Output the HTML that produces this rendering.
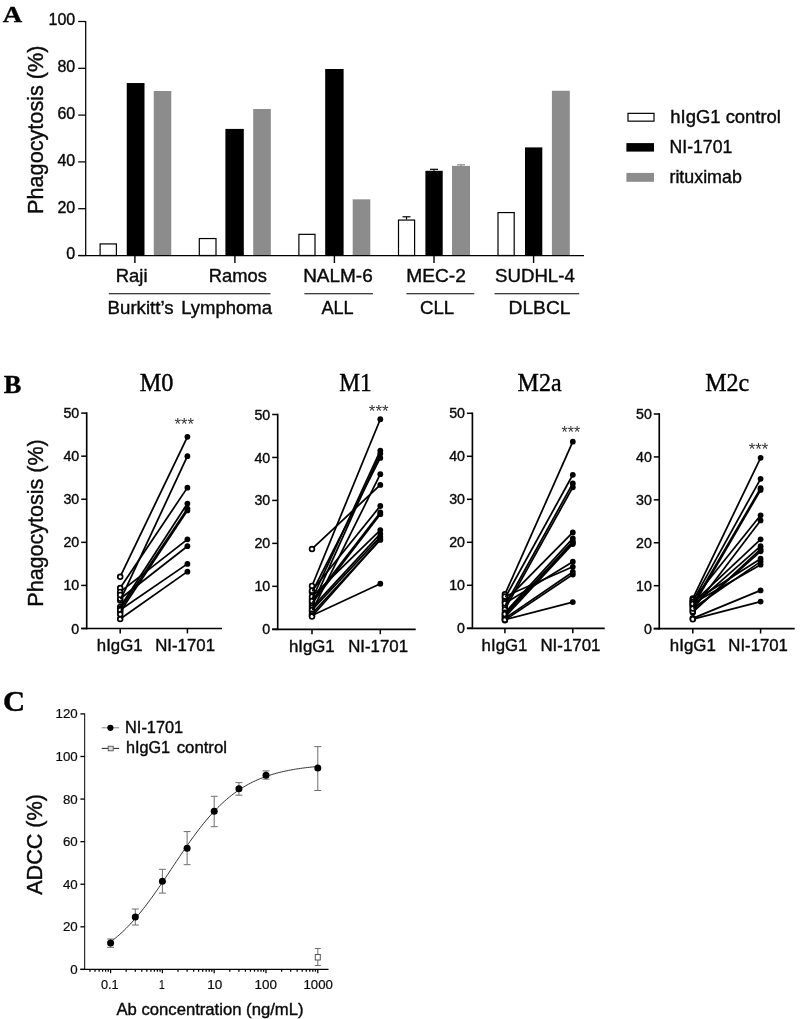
<!DOCTYPE html>
<html lang="en"><head><meta charset="utf-8"><title>Figure</title>
<style>
html,body{margin:0;padding:0;background:#fff;}
svg{display:block;will-change:transform;}
text{white-space:pre;}
</style></head>
<body>
<svg width="800" height="1019" viewBox="0 0 800 1019">
<rect x="0" y="0" width="800" height="1019" fill="#fff"/>
<text transform="translate(2.73 22.00) scale(1.1718 0.9881)" font-size="23" font-family='"Liberation Serif", serif' font-weight="bold" fill="#000" stroke="#000" stroke-width="0.38">A</text>
<line x1="85.70" y1="20.88" x2="85.70" y2="256.12" stroke="#000" stroke-width="1.25" stroke-linecap="butt"/>
<line x1="78.20" y1="255.50" x2="85.70" y2="255.50" stroke="#000" stroke-width="1.25" stroke-linecap="butt"/>
<text transform="translate(66.32 259.30) scale(1.0000 1.0000)" font-size="16" font-family='"Liberation Sans", sans-serif' font-weight="normal" fill="#0a0a0a" stroke="#0a0a0a" stroke-width="0.38">0</text>
<line x1="78.20" y1="208.70" x2="85.70" y2="208.70" stroke="#000" stroke-width="1.25" stroke-linecap="butt"/>
<text transform="translate(57.44 212.50) scale(1.0000 1.0000)" font-size="16" font-family='"Liberation Sans", sans-serif' font-weight="normal" fill="#0a0a0a" stroke="#0a0a0a" stroke-width="0.38">20</text>
<line x1="78.20" y1="161.90" x2="85.70" y2="161.90" stroke="#000" stroke-width="1.25" stroke-linecap="butt"/>
<text transform="translate(57.44 165.70) scale(1.0000 1.0000)" font-size="16" font-family='"Liberation Sans", sans-serif' font-weight="normal" fill="#0a0a0a" stroke="#0a0a0a" stroke-width="0.38">40</text>
<line x1="78.20" y1="115.10" x2="85.70" y2="115.10" stroke="#000" stroke-width="1.25" stroke-linecap="butt"/>
<text transform="translate(57.44 118.90) scale(1.0000 1.0000)" font-size="16" font-family='"Liberation Sans", sans-serif' font-weight="normal" fill="#0a0a0a" stroke="#0a0a0a" stroke-width="0.38">60</text>
<line x1="78.20" y1="68.30" x2="85.70" y2="68.30" stroke="#000" stroke-width="1.25" stroke-linecap="butt"/>
<text transform="translate(57.44 72.10) scale(1.0000 1.0000)" font-size="16" font-family='"Liberation Sans", sans-serif' font-weight="normal" fill="#0a0a0a" stroke="#0a0a0a" stroke-width="0.38">80</text>
<line x1="78.20" y1="21.50" x2="85.70" y2="21.50" stroke="#000" stroke-width="1.25" stroke-linecap="butt"/>
<text transform="translate(48.52 25.30) scale(1.0000 1.0000)" font-size="16" font-family='"Liberation Sans", sans-serif' font-weight="normal" fill="#0a0a0a" stroke="#0a0a0a" stroke-width="0.38">100</text>
<text transform="translate(42.50 213.89) rotate(-90) scale(1.0120 1)" font-size="21.4" font-family='"Liberation Sans", sans-serif' fill="#0a0a0a" stroke="#0a0a0a" stroke-width="0.38">Phagocytosis (%)</text>
<line x1="406.50" y1="219.46" x2="406.50" y2="216.80" stroke="#000" stroke-width="1.2" stroke-linecap="butt"/>
<line x1="402.50" y1="216.80" x2="410.50" y2="216.80" stroke="#000" stroke-width="1.2" stroke-linecap="butt"/>
<line x1="434.00" y1="170.79" x2="434.00" y2="169.30" stroke="#000" stroke-width="1.2" stroke-linecap="butt"/>
<line x1="430.00" y1="169.30" x2="438.00" y2="169.30" stroke="#000" stroke-width="1.2" stroke-linecap="butt"/>
<line x1="461.00" y1="165.88" x2="461.00" y2="164.80" stroke="#8c8c8c" stroke-width="1.2" stroke-linecap="butt"/>
<line x1="457.00" y1="164.80" x2="465.00" y2="164.80" stroke="#8c8c8c" stroke-width="1.2" stroke-linecap="butt"/>
<rect x="100.10" y="243.93" width="16.30" height="11.57" fill="#fff" stroke="#000" stroke-width="1.2"/>
<rect x="126.75" y="83.04" width="17.75" height="172.46" fill="#000" stroke="none" stroke-width="1"/>
<rect x="153.75" y="91.00" width="17.50" height="164.50" fill="#8c8c8c" stroke="none" stroke-width="1"/>
<line x1="134.90" y1="255.50" x2="134.90" y2="263.00" stroke="#000" stroke-width="1.4" stroke-linecap="butt"/>
<rect x="199.30" y="238.55" width="16.70" height="16.95" fill="#fff" stroke="#000" stroke-width="1.2"/>
<rect x="225.40" y="128.91" width="18.40" height="126.59" fill="#000" stroke="none" stroke-width="1"/>
<rect x="253.20" y="109.02" width="17.60" height="146.48" fill="#8c8c8c" stroke="none" stroke-width="1"/>
<line x1="234.90" y1="255.50" x2="234.90" y2="263.00" stroke="#000" stroke-width="1.4" stroke-linecap="butt"/>
<rect x="298.90" y="234.34" width="16.10" height="21.16" fill="#fff" stroke="#000" stroke-width="1.2"/>
<rect x="325.20" y="69.00" width="18.40" height="186.50" fill="#000" stroke="none" stroke-width="1"/>
<rect x="352.70" y="199.34" width="17.60" height="56.16" fill="#8c8c8c" stroke="none" stroke-width="1"/>
<line x1="334.40" y1="255.50" x2="334.40" y2="263.00" stroke="#000" stroke-width="1.4" stroke-linecap="butt"/>
<rect x="398.50" y="220.06" width="16.10" height="35.44" fill="#fff" stroke="#000" stroke-width="1.2"/>
<rect x="425.40" y="170.79" width="17.30" height="84.71" fill="#000" stroke="none" stroke-width="1"/>
<rect x="452.00" y="165.88" width="18.00" height="89.62" fill="#8c8c8c" stroke="none" stroke-width="1"/>
<line x1="434.00" y1="255.50" x2="434.00" y2="263.00" stroke="#000" stroke-width="1.4" stroke-linecap="butt"/>
<rect x="498.00" y="212.58" width="16.20" height="42.92" fill="#fff" stroke="#000" stroke-width="1.2"/>
<rect x="525.00" y="147.39" width="17.30" height="108.11" fill="#000" stroke="none" stroke-width="1"/>
<rect x="551.90" y="90.76" width="17.90" height="164.74" fill="#8c8c8c" stroke="none" stroke-width="1"/>
<line x1="533.60" y1="255.50" x2="533.60" y2="263.00" stroke="#000" stroke-width="1.4" stroke-linecap="butt"/>
<line x1="78.20" y1="255.50" x2="584.00" y2="255.50" stroke="#000" stroke-width="1.25" stroke-linecap="butt"/>
<text transform="translate(115.78 282.10) scale(1.0246 1.0000)" font-size="18.0" font-family='"Liberation Sans", sans-serif' font-weight="normal" fill="#0a0a0a" stroke="#0a0a0a" stroke-width="0.38">Raji</text>
<text transform="translate(208.79 282.10) scale(1.0191 1.0000)" font-size="18.0" font-family='"Liberation Sans", sans-serif' font-weight="normal" fill="#0a0a0a" stroke="#0a0a0a" stroke-width="0.38">Ramos</text>
<text transform="translate(303.14 282.10) scale(1.0539 1.0000)" font-size="18.0" font-family='"Liberation Sans", sans-serif' font-weight="normal" fill="#0a0a0a" stroke="#0a0a0a" stroke-width="0.38">NALM-6</text>
<text transform="translate(406.22 282.10) scale(1.0654 1.0000)" font-size="18.0" font-family='"Liberation Sans", sans-serif' font-weight="normal" fill="#0a0a0a" stroke="#0a0a0a" stroke-width="0.38">MEC-2</text>
<text transform="translate(495.06 282.10) scale(1.0358 1.0000)" font-size="18.0" font-family='"Liberation Sans", sans-serif' font-weight="normal" fill="#0a0a0a" stroke="#0a0a0a" stroke-width="0.38">SUDHL-4</text>
<line x1="108.75" y1="293.70" x2="270.50" y2="293.70" stroke="#000" stroke-width="1.1" stroke-linecap="butt"/>
<line x1="304.40" y1="293.70" x2="373.00" y2="293.70" stroke="#000" stroke-width="1.1" stroke-linecap="butt"/>
<line x1="406.40" y1="293.70" x2="474.20" y2="293.70" stroke="#000" stroke-width="1.1" stroke-linecap="butt"/>
<line x1="494.50" y1="293.70" x2="579.20" y2="293.70" stroke="#000" stroke-width="1.1" stroke-linecap="butt"/>
<text transform="translate(107.56 313.85) scale(1.0380 1.0000)" font-size="18.0" font-family='"Liberation Sans", sans-serif' font-weight="normal" fill="#0a0a0a" stroke="#0a0a0a" stroke-width="0.38">Burkitt’s</text>
<text transform="translate(181.28 313.85) scale(1.0265 1.0000)" font-size="18.0" font-family='"Liberation Sans", sans-serif' font-weight="normal" fill="#0a0a0a" stroke="#0a0a0a" stroke-width="0.38">Lymphoma</text>
<text transform="translate(321.45 313.85) scale(1.0075 1.0000)" font-size="18.0" font-family='"Liberation Sans", sans-serif' font-weight="normal" fill="#0a0a0a" stroke="#0a0a0a" stroke-width="0.38">ALL</text>
<text transform="translate(419.97 313.85) scale(1.0381 1.0000)" font-size="18.0" font-family='"Liberation Sans", sans-serif' font-weight="normal" fill="#0a0a0a" stroke="#0a0a0a" stroke-width="0.38">CLL</text>
<text transform="translate(508.52 313.85) scale(1.0673 1.0000)" font-size="18.0" font-family='"Liberation Sans", sans-serif' font-weight="normal" fill="#0a0a0a" stroke="#0a0a0a" stroke-width="0.38">DLBCL</text>
<rect x="628.00" y="113.35" width="26.00" height="7.80" fill="#fff" stroke="#000" stroke-width="1.2"/>
<rect x="626.40" y="143.10" width="27.60" height="8.50" fill="#000" stroke="none" stroke-width="1"/>
<rect x="626.40" y="172.90" width="27.60" height="8.90" fill="#8c8c8c" stroke="none" stroke-width="1"/>
<text transform="translate(670.31 122.60) scale(1.0478 1.0000)" font-size="17.6" font-family='"Liberation Sans", sans-serif' font-weight="normal" fill="#0a0a0a" stroke="#0a0a0a" stroke-width="0.38">hIgG1 control</text>
<text transform="translate(669.54 153.30) scale(1.0029 1.0000)" font-size="17.6" font-family='"Liberation Sans", sans-serif' font-weight="normal" fill="#0a0a0a" stroke="#0a0a0a" stroke-width="0.38">NI-1701</text>
<text transform="translate(669.44 183.00) scale(1.0141 1.0000)" font-size="17.6" font-family='"Liberation Sans", sans-serif' font-weight="normal" fill="#0a0a0a" stroke="#0a0a0a" stroke-width="0.38">rituximab</text>
<text transform="translate(3.64 393.14) scale(1.1044 1.0203)" font-size="24" font-family='"Liberation Serif", serif' font-weight="bold" fill="#000" stroke="#000" stroke-width="0.38">B</text>
<text transform="translate(43.40 606.68) rotate(-90) scale(1.0065 1)" font-size="21.4" font-family='"Liberation Sans", sans-serif' fill="#0a0a0a" stroke="#0a0a0a" stroke-width="0.38">Phagocytosis (%)</text>
<text transform="translate(139.63 391.25) scale(1.0042 1.0000)" font-size="24.2" font-family='"Liberation Serif", serif' font-weight="normal" fill="#000" stroke="#000" stroke-width="0.38">M0</text>
<line x1="86.70" y1="412.28" x2="86.70" y2="629.33" stroke="#000" stroke-width="1.65" stroke-linecap="butt"/>
<line x1="81.20" y1="628.50" x2="222.00" y2="628.50" stroke="#000" stroke-width="1.65" stroke-linecap="butt"/>
<line x1="81.20" y1="628.50" x2="86.70" y2="628.50" stroke="#000" stroke-width="1.5" stroke-linecap="butt"/>
<text transform="translate(71.35 633.55) scale(1.0000 1.0000)" font-size="14.2" font-family='"Liberation Sans", sans-serif' font-weight="normal" fill="#0a0a0a" stroke="#0a0a0a" stroke-width="0.38">0</text>
<line x1="81.20" y1="585.42" x2="86.70" y2="585.42" stroke="#000" stroke-width="1.5" stroke-linecap="butt"/>
<text transform="translate(63.47 590.47) scale(1.0000 1.0000)" font-size="14.2" font-family='"Liberation Sans", sans-serif' font-weight="normal" fill="#0a0a0a" stroke="#0a0a0a" stroke-width="0.38">10</text>
<line x1="81.20" y1="542.34" x2="86.70" y2="542.34" stroke="#000" stroke-width="1.5" stroke-linecap="butt"/>
<text transform="translate(63.47 547.39) scale(1.0000 1.0000)" font-size="14.2" font-family='"Liberation Sans", sans-serif' font-weight="normal" fill="#0a0a0a" stroke="#0a0a0a" stroke-width="0.38">20</text>
<line x1="81.20" y1="499.26" x2="86.70" y2="499.26" stroke="#000" stroke-width="1.5" stroke-linecap="butt"/>
<text transform="translate(63.47 504.31) scale(1.0000 1.0000)" font-size="14.2" font-family='"Liberation Sans", sans-serif' font-weight="normal" fill="#0a0a0a" stroke="#0a0a0a" stroke-width="0.38">30</text>
<line x1="81.20" y1="456.18" x2="86.70" y2="456.18" stroke="#000" stroke-width="1.5" stroke-linecap="butt"/>
<text transform="translate(63.47 461.23) scale(1.0000 1.0000)" font-size="14.2" font-family='"Liberation Sans", sans-serif' font-weight="normal" fill="#0a0a0a" stroke="#0a0a0a" stroke-width="0.38">40</text>
<line x1="81.20" y1="413.10" x2="86.70" y2="413.10" stroke="#000" stroke-width="1.5" stroke-linecap="butt"/>
<text transform="translate(63.47 418.15) scale(1.0000 1.0000)" font-size="14.2" font-family='"Liberation Sans", sans-serif' font-weight="normal" fill="#0a0a0a" stroke="#0a0a0a" stroke-width="0.38">50</text>
<line x1="120.20" y1="628.50" x2="120.20" y2="633.40" stroke="#000" stroke-width="1.5" stroke-linecap="butt"/>
<line x1="187.40" y1="628.50" x2="187.40" y2="633.40" stroke="#000" stroke-width="1.5" stroke-linecap="butt"/>
<text transform="translate(96.82 651.20) scale(1.0315 1.0000)" font-size="16.3" font-family='"Liberation Sans", sans-serif' font-weight="normal" fill="#0a0a0a" stroke="#0a0a0a" stroke-width="0.38">hIgG1</text>
<text transform="translate(155.21 651.20) scale(1.0310 1.0000)" font-size="16.3" font-family='"Liberation Sans", sans-serif' font-weight="normal" fill="#0a0a0a" stroke="#0a0a0a" stroke-width="0.38">NI-1701</text>
<text transform="translate(174.56 429.66) scale(0.9566 1.0000)" font-size="17.4" font-family='"Liberation Sans", sans-serif' font-weight="normal" fill="#333" stroke="#333" stroke-width="0">***</text>
<circle cx="120.20" cy="576.80" r="2.4" fill="#fff" stroke="#000" stroke-width="1.7"/>
<circle cx="120.20" cy="600.50" r="2.4" fill="#fff" stroke="#000" stroke-width="1.7"/>
<circle cx="120.20" cy="588.00" r="2.4" fill="#fff" stroke="#000" stroke-width="1.7"/>
<circle cx="120.20" cy="606.96" r="2.4" fill="#fff" stroke="#000" stroke-width="1.7"/>
<circle cx="120.20" cy="609.11" r="2.4" fill="#fff" stroke="#000" stroke-width="1.7"/>
<circle cx="120.20" cy="611.70" r="2.4" fill="#fff" stroke="#000" stroke-width="1.7"/>
<circle cx="120.20" cy="591.88" r="2.4" fill="#fff" stroke="#000" stroke-width="1.7"/>
<circle cx="120.20" cy="598.77" r="2.4" fill="#fff" stroke="#000" stroke-width="1.7"/>
<circle cx="120.20" cy="609.98" r="2.4" fill="#fff" stroke="#000" stroke-width="1.7"/>
<circle cx="120.20" cy="619.02" r="2.4" fill="#fff" stroke="#000" stroke-width="1.7"/>
<circle cx="120.20" cy="594.90" r="2.4" fill="#fff" stroke="#000" stroke-width="1.7"/>
<circle cx="120.20" cy="614.28" r="2.4" fill="#fff" stroke="#000" stroke-width="1.7"/>
<line x1="121.33" y1="574.46" x2="187.40" y2="436.79" stroke="#000" stroke-width="1.75" stroke-linecap="butt"/>
<line x1="120.71" y1="599.41" x2="187.40" y2="456.18" stroke="#000" stroke-width="1.75" stroke-linecap="butt"/>
<line x1="121.65" y1="585.84" x2="187.40" y2="487.63" stroke="#000" stroke-width="1.75" stroke-linecap="butt"/>
<line x1="120.85" y1="605.95" x2="187.40" y2="503.57" stroke="#000" stroke-width="1.75" stroke-linecap="butt"/>
<line x1="120.87" y1="608.12" x2="187.40" y2="508.74" stroke="#000" stroke-width="1.75" stroke-linecap="butt"/>
<line x1="120.86" y1="610.70" x2="187.40" y2="510.46" stroke="#000" stroke-width="1.75" stroke-linecap="butt"/>
<line x1="121.15" y1="591.14" x2="187.40" y2="539.32" stroke="#000" stroke-width="1.75" stroke-linecap="butt"/>
<line x1="121.15" y1="598.04" x2="187.40" y2="546.22" stroke="#000" stroke-width="1.75" stroke-linecap="butt"/>
<line x1="121.19" y1="609.30" x2="187.40" y2="563.88" stroke="#000" stroke-width="1.75" stroke-linecap="butt"/>
<line x1="121.18" y1="618.33" x2="187.40" y2="571.63" stroke="#000" stroke-width="1.75" stroke-linecap="butt"/>
<circle cx="187.40" cy="436.79" r="2.9" fill="#000" stroke="none" stroke-width="1"/>
<circle cx="187.40" cy="456.18" r="2.9" fill="#000" stroke="none" stroke-width="1"/>
<circle cx="187.40" cy="487.63" r="2.9" fill="#000" stroke="none" stroke-width="1"/>
<circle cx="187.40" cy="503.57" r="2.9" fill="#000" stroke="none" stroke-width="1"/>
<circle cx="187.40" cy="508.74" r="2.9" fill="#000" stroke="none" stroke-width="1"/>
<circle cx="187.40" cy="510.46" r="2.9" fill="#000" stroke="none" stroke-width="1"/>
<circle cx="187.40" cy="539.32" r="2.9" fill="#000" stroke="none" stroke-width="1"/>
<circle cx="187.40" cy="546.22" r="2.9" fill="#000" stroke="none" stroke-width="1"/>
<circle cx="187.40" cy="563.88" r="2.9" fill="#000" stroke="none" stroke-width="1"/>
<circle cx="187.40" cy="571.63" r="2.9" fill="#000" stroke="none" stroke-width="1"/>
<text transform="translate(339.16 391.25) scale(0.9676 1.0000)" font-size="24.2" font-family='"Liberation Serif", serif' font-weight="normal" fill="#000" stroke="#000" stroke-width="0.38">M1</text>
<line x1="277.70" y1="413.68" x2="277.70" y2="630.12" stroke="#000" stroke-width="1.65" stroke-linecap="butt"/>
<line x1="272.20" y1="629.30" x2="415.70" y2="629.30" stroke="#000" stroke-width="1.65" stroke-linecap="butt"/>
<line x1="272.20" y1="629.30" x2="277.70" y2="629.30" stroke="#000" stroke-width="1.5" stroke-linecap="butt"/>
<text transform="translate(262.35 634.35) scale(1.0000 1.0000)" font-size="14.2" font-family='"Liberation Sans", sans-serif' font-weight="normal" fill="#0a0a0a" stroke="#0a0a0a" stroke-width="0.38">0</text>
<line x1="272.20" y1="586.34" x2="277.70" y2="586.34" stroke="#000" stroke-width="1.5" stroke-linecap="butt"/>
<text transform="translate(254.47 591.39) scale(1.0000 1.0000)" font-size="14.2" font-family='"Liberation Sans", sans-serif' font-weight="normal" fill="#0a0a0a" stroke="#0a0a0a" stroke-width="0.38">10</text>
<line x1="272.20" y1="543.38" x2="277.70" y2="543.38" stroke="#000" stroke-width="1.5" stroke-linecap="butt"/>
<text transform="translate(254.47 548.43) scale(1.0000 1.0000)" font-size="14.2" font-family='"Liberation Sans", sans-serif' font-weight="normal" fill="#0a0a0a" stroke="#0a0a0a" stroke-width="0.38">20</text>
<line x1="272.20" y1="500.42" x2="277.70" y2="500.42" stroke="#000" stroke-width="1.5" stroke-linecap="butt"/>
<text transform="translate(254.47 505.47) scale(1.0000 1.0000)" font-size="14.2" font-family='"Liberation Sans", sans-serif' font-weight="normal" fill="#0a0a0a" stroke="#0a0a0a" stroke-width="0.38">30</text>
<line x1="272.20" y1="457.46" x2="277.70" y2="457.46" stroke="#000" stroke-width="1.5" stroke-linecap="butt"/>
<text transform="translate(254.47 462.51) scale(1.0000 1.0000)" font-size="14.2" font-family='"Liberation Sans", sans-serif' font-weight="normal" fill="#0a0a0a" stroke="#0a0a0a" stroke-width="0.38">40</text>
<line x1="272.20" y1="414.50" x2="277.70" y2="414.50" stroke="#000" stroke-width="1.5" stroke-linecap="butt"/>
<text transform="translate(254.47 419.55) scale(1.0000 1.0000)" font-size="14.2" font-family='"Liberation Sans", sans-serif' font-weight="normal" fill="#0a0a0a" stroke="#0a0a0a" stroke-width="0.38">50</text>
<line x1="312.00" y1="629.30" x2="312.00" y2="634.20" stroke="#000" stroke-width="1.5" stroke-linecap="butt"/>
<line x1="380.30" y1="629.30" x2="380.30" y2="634.20" stroke="#000" stroke-width="1.5" stroke-linecap="butt"/>
<text transform="translate(288.92 652.40) scale(1.0315 1.0000)" font-size="16.3" font-family='"Liberation Sans", sans-serif' font-weight="normal" fill="#0a0a0a" stroke="#0a0a0a" stroke-width="0.38">hIgG1</text>
<text transform="translate(348.21 652.40) scale(1.0310 1.0000)" font-size="16.3" font-family='"Liberation Sans", sans-serif' font-weight="normal" fill="#0a0a0a" stroke="#0a0a0a" stroke-width="0.38">NI-1701</text>
<text transform="translate(368.80 417.46) scale(0.9743 1.0000)" font-size="17.4" font-family='"Liberation Sans", sans-serif' font-weight="normal" fill="#333" stroke="#333" stroke-width="0">***</text>
<circle cx="312.00" cy="585.91" r="2.4" fill="#fff" stroke="#000" stroke-width="1.7"/>
<circle cx="312.00" cy="599.23" r="2.4" fill="#fff" stroke="#000" stroke-width="1.7"/>
<circle cx="312.00" cy="605.67" r="2.4" fill="#fff" stroke="#000" stroke-width="1.7"/>
<circle cx="312.00" cy="592.35" r="2.4" fill="#fff" stroke="#000" stroke-width="1.7"/>
<circle cx="312.00" cy="611.26" r="2.4" fill="#fff" stroke="#000" stroke-width="1.7"/>
<circle cx="312.00" cy="548.96" r="2.4" fill="#fff" stroke="#000" stroke-width="1.7"/>
<circle cx="312.00" cy="590.64" r="2.4" fill="#fff" stroke="#000" stroke-width="1.7"/>
<circle cx="312.00" cy="603.09" r="2.4" fill="#fff" stroke="#000" stroke-width="1.7"/>
<circle cx="312.00" cy="596.65" r="2.4" fill="#fff" stroke="#000" stroke-width="1.7"/>
<circle cx="312.00" cy="607.82" r="2.4" fill="#fff" stroke="#000" stroke-width="1.7"/>
<circle cx="312.00" cy="609.97" r="2.4" fill="#fff" stroke="#000" stroke-width="1.7"/>
<circle cx="312.00" cy="613.83" r="2.4" fill="#fff" stroke="#000" stroke-width="1.7"/>
<circle cx="312.00" cy="615.55" r="2.4" fill="#fff" stroke="#000" stroke-width="1.7"/>
<circle cx="312.00" cy="616.41" r="2.4" fill="#fff" stroke="#000" stroke-width="1.7"/>
<circle cx="312.00" cy="600.95" r="2.4" fill="#fff" stroke="#000" stroke-width="1.7"/>
<line x1="312.99" y1="583.50" x2="380.30" y2="419.23" stroke="#000" stroke-width="1.75" stroke-linecap="butt"/>
<line x1="312.50" y1="598.14" x2="380.30" y2="450.59" stroke="#000" stroke-width="1.75" stroke-linecap="butt"/>
<line x1="312.49" y1="604.58" x2="380.30" y2="453.59" stroke="#000" stroke-width="1.75" stroke-linecap="butt"/>
<line x1="312.54" y1="591.28" x2="380.30" y2="457.89" stroke="#000" stroke-width="1.75" stroke-linecap="butt"/>
<line x1="312.54" y1="610.18" x2="380.30" y2="474.21" stroke="#000" stroke-width="1.75" stroke-linecap="butt"/>
<line x1="313.90" y1="547.19" x2="380.30" y2="484.95" stroke="#000" stroke-width="1.75" stroke-linecap="butt"/>
<line x1="312.75" y1="589.70" x2="380.30" y2="506.00" stroke="#000" stroke-width="1.75" stroke-linecap="butt"/>
<line x1="312.73" y1="602.14" x2="380.30" y2="514.17" stroke="#000" stroke-width="1.75" stroke-linecap="butt"/>
<line x1="312.86" y1="595.81" x2="380.30" y2="530.06" stroke="#000" stroke-width="1.75" stroke-linecap="butt"/>
<line x1="312.81" y1="606.94" x2="380.30" y2="533.93" stroke="#000" stroke-width="1.75" stroke-linecap="butt"/>
<line x1="312.82" y1="609.09" x2="380.30" y2="536.94" stroke="#000" stroke-width="1.75" stroke-linecap="butt"/>
<line x1="312.81" y1="612.95" x2="380.30" y2="539.94" stroke="#000" stroke-width="1.75" stroke-linecap="butt"/>
<line x1="313.09" y1="615.05" x2="380.30" y2="583.76" stroke="#000" stroke-width="1.75" stroke-linecap="butt"/>
<line x1="312.79" y1="615.51" x2="380.30" y2="539.08" stroke="#000" stroke-width="1.75" stroke-linecap="butt"/>
<line x1="312.73" y1="600.00" x2="380.30" y2="512.45" stroke="#000" stroke-width="1.75" stroke-linecap="butt"/>
<circle cx="380.30" cy="419.23" r="2.9" fill="#000" stroke="none" stroke-width="1"/>
<circle cx="380.30" cy="450.59" r="2.9" fill="#000" stroke="none" stroke-width="1"/>
<circle cx="380.30" cy="453.59" r="2.9" fill="#000" stroke="none" stroke-width="1"/>
<circle cx="380.30" cy="457.89" r="2.9" fill="#000" stroke="none" stroke-width="1"/>
<circle cx="380.30" cy="474.21" r="2.9" fill="#000" stroke="none" stroke-width="1"/>
<circle cx="380.30" cy="484.95" r="2.9" fill="#000" stroke="none" stroke-width="1"/>
<circle cx="380.30" cy="506.00" r="2.9" fill="#000" stroke="none" stroke-width="1"/>
<circle cx="380.30" cy="514.17" r="2.9" fill="#000" stroke="none" stroke-width="1"/>
<circle cx="380.30" cy="530.06" r="2.9" fill="#000" stroke="none" stroke-width="1"/>
<circle cx="380.30" cy="533.93" r="2.9" fill="#000" stroke="none" stroke-width="1"/>
<circle cx="380.30" cy="536.94" r="2.9" fill="#000" stroke="none" stroke-width="1"/>
<circle cx="380.30" cy="539.94" r="2.9" fill="#000" stroke="none" stroke-width="1"/>
<circle cx="380.30" cy="583.76" r="2.9" fill="#000" stroke="none" stroke-width="1"/>
<circle cx="380.30" cy="539.08" r="2.9" fill="#000" stroke="none" stroke-width="1"/>
<circle cx="380.30" cy="512.45" r="2.9" fill="#000" stroke="none" stroke-width="1"/>
<text transform="translate(517.54 391.25) scale(0.9924 1.0000)" font-size="24.2" font-family='"Liberation Serif", serif' font-weight="normal" fill="#000" stroke="#000" stroke-width="0.38">M2a</text>
<line x1="472.40" y1="412.48" x2="472.40" y2="629.12" stroke="#000" stroke-width="1.65" stroke-linecap="butt"/>
<line x1="466.90" y1="628.30" x2="604.70" y2="628.30" stroke="#000" stroke-width="1.65" stroke-linecap="butt"/>
<line x1="466.90" y1="628.30" x2="472.40" y2="628.30" stroke="#000" stroke-width="1.5" stroke-linecap="butt"/>
<text transform="translate(457.05 633.35) scale(1.0000 1.0000)" font-size="14.2" font-family='"Liberation Sans", sans-serif' font-weight="normal" fill="#0a0a0a" stroke="#0a0a0a" stroke-width="0.38">0</text>
<line x1="466.90" y1="585.30" x2="472.40" y2="585.30" stroke="#000" stroke-width="1.5" stroke-linecap="butt"/>
<text transform="translate(449.17 590.35) scale(1.0000 1.0000)" font-size="14.2" font-family='"Liberation Sans", sans-serif' font-weight="normal" fill="#0a0a0a" stroke="#0a0a0a" stroke-width="0.38">10</text>
<line x1="466.90" y1="542.30" x2="472.40" y2="542.30" stroke="#000" stroke-width="1.5" stroke-linecap="butt"/>
<text transform="translate(449.17 547.35) scale(1.0000 1.0000)" font-size="14.2" font-family='"Liberation Sans", sans-serif' font-weight="normal" fill="#0a0a0a" stroke="#0a0a0a" stroke-width="0.38">20</text>
<line x1="466.90" y1="499.30" x2="472.40" y2="499.30" stroke="#000" stroke-width="1.5" stroke-linecap="butt"/>
<text transform="translate(449.17 504.35) scale(1.0000 1.0000)" font-size="14.2" font-family='"Liberation Sans", sans-serif' font-weight="normal" fill="#0a0a0a" stroke="#0a0a0a" stroke-width="0.38">30</text>
<line x1="466.90" y1="456.30" x2="472.40" y2="456.30" stroke="#000" stroke-width="1.5" stroke-linecap="butt"/>
<text transform="translate(449.17 461.35) scale(1.0000 1.0000)" font-size="14.2" font-family='"Liberation Sans", sans-serif' font-weight="normal" fill="#0a0a0a" stroke="#0a0a0a" stroke-width="0.38">40</text>
<line x1="466.90" y1="413.30" x2="472.40" y2="413.30" stroke="#000" stroke-width="1.5" stroke-linecap="butt"/>
<text transform="translate(449.17 418.35) scale(1.0000 1.0000)" font-size="14.2" font-family='"Liberation Sans", sans-serif' font-weight="normal" fill="#0a0a0a" stroke="#0a0a0a" stroke-width="0.38">50</text>
<line x1="504.90" y1="628.30" x2="504.90" y2="633.20" stroke="#000" stroke-width="1.5" stroke-linecap="butt"/>
<line x1="572.80" y1="628.30" x2="572.80" y2="633.20" stroke="#000" stroke-width="1.5" stroke-linecap="butt"/>
<text transform="translate(481.62 650.80) scale(1.0315 1.0000)" font-size="16.3" font-family='"Liberation Sans", sans-serif' font-weight="normal" fill="#0a0a0a" stroke="#0a0a0a" stroke-width="0.38">hIgG1</text>
<text transform="translate(540.41 650.80) scale(1.0346 1.0000)" font-size="16.3" font-family='"Liberation Sans", sans-serif' font-weight="normal" fill="#0a0a0a" stroke="#0a0a0a" stroke-width="0.38">NI-1701</text>
<text transform="translate(561.57 438.46) scale(0.9211 1.0000)" font-size="17.4" font-family='"Liberation Sans", sans-serif' font-weight="normal" fill="#333" stroke="#333" stroke-width="0">***</text>
<circle cx="504.90" cy="594.33" r="2.4" fill="#fff" stroke="#000" stroke-width="1.7"/>
<circle cx="504.90" cy="598.20" r="2.4" fill="#fff" stroke="#000" stroke-width="1.7"/>
<circle cx="504.90" cy="605.94" r="2.4" fill="#fff" stroke="#000" stroke-width="1.7"/>
<circle cx="504.90" cy="609.38" r="2.4" fill="#fff" stroke="#000" stroke-width="1.7"/>
<circle cx="504.90" cy="601.21" r="2.4" fill="#fff" stroke="#000" stroke-width="1.7"/>
<circle cx="504.90" cy="612.82" r="2.4" fill="#fff" stroke="#000" stroke-width="1.7"/>
<circle cx="504.90" cy="615.40" r="2.4" fill="#fff" stroke="#000" stroke-width="1.7"/>
<circle cx="504.90" cy="617.12" r="2.4" fill="#fff" stroke="#000" stroke-width="1.7"/>
<circle cx="504.90" cy="603.36" r="2.4" fill="#fff" stroke="#000" stroke-width="1.7"/>
<circle cx="504.90" cy="596.48" r="2.4" fill="#fff" stroke="#000" stroke-width="1.7"/>
<circle cx="504.90" cy="618.41" r="2.4" fill="#fff" stroke="#000" stroke-width="1.7"/>
<circle cx="504.90" cy="620.13" r="2.4" fill="#fff" stroke="#000" stroke-width="1.7"/>
<circle cx="504.90" cy="619.70" r="2.4" fill="#fff" stroke="#000" stroke-width="1.7"/>
<circle cx="504.90" cy="614.11" r="2.4" fill="#fff" stroke="#000" stroke-width="1.7"/>
<line x1="505.96" y1="591.95" x2="572.80" y2="441.68" stroke="#000" stroke-width="1.75" stroke-linecap="butt"/>
<line x1="505.48" y1="597.15" x2="572.80" y2="474.79" stroke="#000" stroke-width="1.75" stroke-linecap="butt"/>
<line x1="505.48" y1="604.89" x2="572.80" y2="483.39" stroke="#000" stroke-width="1.75" stroke-linecap="butt"/>
<line x1="505.48" y1="608.33" x2="572.80" y2="487.26" stroke="#000" stroke-width="1.75" stroke-linecap="butt"/>
<line x1="505.74" y1="600.36" x2="572.80" y2="532.41" stroke="#000" stroke-width="1.75" stroke-linecap="butt"/>
<line x1="505.71" y1="611.93" x2="572.80" y2="538.43" stroke="#000" stroke-width="1.75" stroke-linecap="butt"/>
<line x1="505.71" y1="614.52" x2="572.80" y2="541.44" stroke="#000" stroke-width="1.75" stroke-linecap="butt"/>
<line x1="505.72" y1="616.24" x2="572.80" y2="544.02" stroke="#000" stroke-width="1.75" stroke-linecap="butt"/>
<line x1="505.92" y1="602.73" x2="572.80" y2="561.65" stroke="#000" stroke-width="1.75" stroke-linecap="butt"/>
<line x1="507.28" y1="595.44" x2="572.80" y2="566.81" stroke="#000" stroke-width="1.75" stroke-linecap="butt"/>
<line x1="505.89" y1="617.73" x2="572.80" y2="571.97" stroke="#000" stroke-width="1.75" stroke-linecap="butt"/>
<line x1="505.90" y1="619.46" x2="572.80" y2="574.55" stroke="#000" stroke-width="1.75" stroke-linecap="butt"/>
<line x1="506.06" y1="619.40" x2="572.80" y2="602.07" stroke="#000" stroke-width="1.75" stroke-linecap="butt"/>
<line x1="505.73" y1="613.24" x2="572.80" y2="542.73" stroke="#000" stroke-width="1.75" stroke-linecap="butt"/>
<circle cx="572.80" cy="441.68" r="2.9" fill="#000" stroke="none" stroke-width="1"/>
<circle cx="572.80" cy="474.79" r="2.9" fill="#000" stroke="none" stroke-width="1"/>
<circle cx="572.80" cy="483.39" r="2.9" fill="#000" stroke="none" stroke-width="1"/>
<circle cx="572.80" cy="487.26" r="2.9" fill="#000" stroke="none" stroke-width="1"/>
<circle cx="572.80" cy="532.41" r="2.9" fill="#000" stroke="none" stroke-width="1"/>
<circle cx="572.80" cy="538.43" r="2.9" fill="#000" stroke="none" stroke-width="1"/>
<circle cx="572.80" cy="541.44" r="2.9" fill="#000" stroke="none" stroke-width="1"/>
<circle cx="572.80" cy="544.02" r="2.9" fill="#000" stroke="none" stroke-width="1"/>
<circle cx="572.80" cy="561.65" r="2.9" fill="#000" stroke="none" stroke-width="1"/>
<circle cx="572.80" cy="566.81" r="2.9" fill="#000" stroke="none" stroke-width="1"/>
<circle cx="572.80" cy="571.97" r="2.9" fill="#000" stroke="none" stroke-width="1"/>
<circle cx="572.80" cy="574.55" r="2.9" fill="#000" stroke="none" stroke-width="1"/>
<circle cx="572.80" cy="602.07" r="2.9" fill="#000" stroke="none" stroke-width="1"/>
<circle cx="572.80" cy="542.73" r="2.9" fill="#000" stroke="none" stroke-width="1"/>
<text transform="translate(705.14 391.25) scale(0.9941 1.0000)" font-size="24.2" font-family='"Liberation Serif", serif' font-weight="normal" fill="#000" stroke="#000" stroke-width="0.38">M2c</text>
<line x1="659.25" y1="413.18" x2="659.25" y2="629.43" stroke="#000" stroke-width="1.65" stroke-linecap="butt"/>
<line x1="653.75" y1="628.60" x2="794.70" y2="628.60" stroke="#000" stroke-width="1.65" stroke-linecap="butt"/>
<line x1="653.75" y1="628.60" x2="659.25" y2="628.60" stroke="#000" stroke-width="1.5" stroke-linecap="butt"/>
<text transform="translate(643.90 633.65) scale(1.0000 1.0000)" font-size="14.2" font-family='"Liberation Sans", sans-serif' font-weight="normal" fill="#0a0a0a" stroke="#0a0a0a" stroke-width="0.38">0</text>
<line x1="653.75" y1="585.68" x2="659.25" y2="585.68" stroke="#000" stroke-width="1.5" stroke-linecap="butt"/>
<text transform="translate(636.02 590.73) scale(1.0000 1.0000)" font-size="14.2" font-family='"Liberation Sans", sans-serif' font-weight="normal" fill="#0a0a0a" stroke="#0a0a0a" stroke-width="0.38">10</text>
<line x1="653.75" y1="542.76" x2="659.25" y2="542.76" stroke="#000" stroke-width="1.5" stroke-linecap="butt"/>
<text transform="translate(636.02 547.81) scale(1.0000 1.0000)" font-size="14.2" font-family='"Liberation Sans", sans-serif' font-weight="normal" fill="#0a0a0a" stroke="#0a0a0a" stroke-width="0.38">20</text>
<line x1="653.75" y1="499.84" x2="659.25" y2="499.84" stroke="#000" stroke-width="1.5" stroke-linecap="butt"/>
<text transform="translate(636.02 504.89) scale(1.0000 1.0000)" font-size="14.2" font-family='"Liberation Sans", sans-serif' font-weight="normal" fill="#0a0a0a" stroke="#0a0a0a" stroke-width="0.38">30</text>
<line x1="653.75" y1="456.92" x2="659.25" y2="456.92" stroke="#000" stroke-width="1.5" stroke-linecap="butt"/>
<text transform="translate(636.02 461.97) scale(1.0000 1.0000)" font-size="14.2" font-family='"Liberation Sans", sans-serif' font-weight="normal" fill="#0a0a0a" stroke="#0a0a0a" stroke-width="0.38">40</text>
<line x1="653.75" y1="414.00" x2="659.25" y2="414.00" stroke="#000" stroke-width="1.5" stroke-linecap="butt"/>
<text transform="translate(636.02 419.05) scale(1.0000 1.0000)" font-size="14.2" font-family='"Liberation Sans", sans-serif' font-weight="normal" fill="#0a0a0a" stroke="#0a0a0a" stroke-width="0.38">50</text>
<line x1="692.80" y1="628.60" x2="692.80" y2="633.50" stroke="#000" stroke-width="1.5" stroke-linecap="butt"/>
<line x1="760.60" y1="628.60" x2="760.60" y2="633.50" stroke="#000" stroke-width="1.5" stroke-linecap="butt"/>
<text transform="translate(669.82 651.20) scale(1.0362 1.0000)" font-size="16.3" font-family='"Liberation Sans", sans-serif' font-weight="normal" fill="#0a0a0a" stroke="#0a0a0a" stroke-width="0.38">hIgG1</text>
<text transform="translate(728.32 651.20) scale(1.0292 1.0000)" font-size="16.3" font-family='"Liberation Sans", sans-serif' font-weight="normal" fill="#0a0a0a" stroke="#0a0a0a" stroke-width="0.38">NI-1701</text>
<text transform="translate(748.81 454.86) scale(0.9591 1.0000)" font-size="17.4" font-family='"Liberation Sans", sans-serif' font-weight="normal" fill="#333" stroke="#333" stroke-width="0">***</text>
<circle cx="692.80" cy="598.56" r="2.4" fill="#fff" stroke="#000" stroke-width="1.7"/>
<circle cx="692.80" cy="601.13" r="2.4" fill="#fff" stroke="#000" stroke-width="1.7"/>
<circle cx="692.80" cy="604.56" r="2.4" fill="#fff" stroke="#000" stroke-width="1.7"/>
<circle cx="692.80" cy="606.71" r="2.4" fill="#fff" stroke="#000" stroke-width="1.7"/>
<circle cx="692.80" cy="599.84" r="2.4" fill="#fff" stroke="#000" stroke-width="1.7"/>
<circle cx="692.80" cy="609.72" r="2.4" fill="#fff" stroke="#000" stroke-width="1.7"/>
<circle cx="692.80" cy="602.85" r="2.4" fill="#fff" stroke="#000" stroke-width="1.7"/>
<circle cx="692.80" cy="605.85" r="2.4" fill="#fff" stroke="#000" stroke-width="1.7"/>
<circle cx="692.80" cy="612.29" r="2.4" fill="#fff" stroke="#000" stroke-width="1.7"/>
<circle cx="692.80" cy="611.43" r="2.4" fill="#fff" stroke="#000" stroke-width="1.7"/>
<circle cx="692.80" cy="601.99" r="2.4" fill="#fff" stroke="#000" stroke-width="1.7"/>
<circle cx="692.80" cy="608.43" r="2.4" fill="#fff" stroke="#000" stroke-width="1.7"/>
<circle cx="692.80" cy="603.71" r="2.4" fill="#fff" stroke="#000" stroke-width="1.7"/>
<circle cx="692.80" cy="618.30" r="2.4" fill="#fff" stroke="#000" stroke-width="1.7"/>
<circle cx="692.80" cy="619.16" r="2.4" fill="#fff" stroke="#000" stroke-width="1.7"/>
<line x1="693.93" y1="596.21" x2="760.60" y2="457.78" stroke="#000" stroke-width="1.75" stroke-linecap="butt"/>
<line x1="693.38" y1="600.08" x2="760.60" y2="478.81" stroke="#000" stroke-width="1.75" stroke-linecap="butt"/>
<line x1="693.40" y1="603.53" x2="760.60" y2="488.25" stroke="#000" stroke-width="1.75" stroke-linecap="butt"/>
<line x1="693.40" y1="605.67" x2="760.60" y2="489.97" stroke="#000" stroke-width="1.75" stroke-linecap="butt"/>
<line x1="694.43" y1="597.82" x2="760.60" y2="515.29" stroke="#000" stroke-width="1.75" stroke-linecap="butt"/>
<line x1="693.53" y1="608.76" x2="760.60" y2="520.44" stroke="#000" stroke-width="1.75" stroke-linecap="butt"/>
<line x1="693.68" y1="602.03" x2="760.60" y2="539.33" stroke="#000" stroke-width="1.75" stroke-linecap="butt"/>
<line x1="693.70" y1="605.06" x2="760.60" y2="546.19" stroke="#000" stroke-width="1.75" stroke-linecap="butt"/>
<line x1="693.68" y1="611.47" x2="760.60" y2="549.20" stroke="#000" stroke-width="1.75" stroke-linecap="butt"/>
<line x1="693.70" y1="610.64" x2="760.60" y2="551.34" stroke="#000" stroke-width="1.75" stroke-linecap="butt"/>
<line x1="693.81" y1="601.34" x2="760.60" y2="558.64" stroke="#000" stroke-width="1.75" stroke-linecap="butt"/>
<line x1="693.79" y1="607.75" x2="760.60" y2="561.64" stroke="#000" stroke-width="1.75" stroke-linecap="butt"/>
<line x1="693.84" y1="603.11" x2="760.60" y2="564.65" stroke="#000" stroke-width="1.75" stroke-linecap="butt"/>
<line x1="693.91" y1="617.84" x2="760.60" y2="590.40" stroke="#000" stroke-width="1.75" stroke-linecap="butt"/>
<line x1="693.96" y1="618.86" x2="760.60" y2="601.56" stroke="#000" stroke-width="1.75" stroke-linecap="butt"/>
<circle cx="760.60" cy="457.78" r="2.9" fill="#000" stroke="none" stroke-width="1"/>
<circle cx="760.60" cy="478.81" r="2.9" fill="#000" stroke="none" stroke-width="1"/>
<circle cx="760.60" cy="488.25" r="2.9" fill="#000" stroke="none" stroke-width="1"/>
<circle cx="760.60" cy="489.97" r="2.9" fill="#000" stroke="none" stroke-width="1"/>
<circle cx="760.60" cy="515.29" r="2.9" fill="#000" stroke="none" stroke-width="1"/>
<circle cx="760.60" cy="520.44" r="2.9" fill="#000" stroke="none" stroke-width="1"/>
<circle cx="760.60" cy="539.33" r="2.9" fill="#000" stroke="none" stroke-width="1"/>
<circle cx="760.60" cy="546.19" r="2.9" fill="#000" stroke="none" stroke-width="1"/>
<circle cx="760.60" cy="549.20" r="2.9" fill="#000" stroke="none" stroke-width="1"/>
<circle cx="760.60" cy="551.34" r="2.9" fill="#000" stroke="none" stroke-width="1"/>
<circle cx="760.60" cy="558.64" r="2.9" fill="#000" stroke="none" stroke-width="1"/>
<circle cx="760.60" cy="561.64" r="2.9" fill="#000" stroke="none" stroke-width="1"/>
<circle cx="760.60" cy="564.65" r="2.9" fill="#000" stroke="none" stroke-width="1"/>
<circle cx="760.60" cy="590.40" r="2.9" fill="#000" stroke="none" stroke-width="1"/>
<circle cx="760.60" cy="601.56" r="2.9" fill="#000" stroke="none" stroke-width="1"/>
<text transform="translate(2.95 710.61) scale(1.0938 1.0250)" font-size="28" font-family='"Liberation Serif", serif' font-weight="bold" fill="#000" stroke="#000" stroke-width="0.38">C</text>
<line x1="84.70" y1="713.40" x2="84.70" y2="970.00" stroke="#000" stroke-width="1.0" stroke-linecap="butt"/>
<line x1="80.30" y1="969.40" x2="328.50" y2="969.40" stroke="#000" stroke-width="1.4" stroke-linecap="butt"/>
<line x1="80.40" y1="969.40" x2="84.70" y2="969.40" stroke="#000" stroke-width="1.3" stroke-linecap="butt"/>
<text transform="translate(70.32 973.85) scale(1.0000 1.0000)" font-size="13.3" font-family='"Liberation Sans", sans-serif' font-weight="normal" fill="#0a0a0a" stroke="#0a0a0a" stroke-width="0.2">0</text>
<line x1="80.40" y1="926.82" x2="84.70" y2="926.82" stroke="#000" stroke-width="1.3" stroke-linecap="butt"/>
<text transform="translate(62.94 931.27) scale(1.0000 1.0000)" font-size="13.3" font-family='"Liberation Sans", sans-serif' font-weight="normal" fill="#0a0a0a" stroke="#0a0a0a" stroke-width="0.2">20</text>
<line x1="80.40" y1="884.23" x2="84.70" y2="884.23" stroke="#000" stroke-width="1.3" stroke-linecap="butt"/>
<text transform="translate(62.94 888.68) scale(1.0000 1.0000)" font-size="13.3" font-family='"Liberation Sans", sans-serif' font-weight="normal" fill="#0a0a0a" stroke="#0a0a0a" stroke-width="0.2">40</text>
<line x1="80.40" y1="841.65" x2="84.70" y2="841.65" stroke="#000" stroke-width="1.3" stroke-linecap="butt"/>
<text transform="translate(62.94 846.10) scale(1.0000 1.0000)" font-size="13.3" font-family='"Liberation Sans", sans-serif' font-weight="normal" fill="#0a0a0a" stroke="#0a0a0a" stroke-width="0.2">60</text>
<line x1="80.40" y1="799.07" x2="84.70" y2="799.07" stroke="#000" stroke-width="1.3" stroke-linecap="butt"/>
<text transform="translate(62.94 803.52) scale(1.0000 1.0000)" font-size="13.3" font-family='"Liberation Sans", sans-serif' font-weight="normal" fill="#0a0a0a" stroke="#0a0a0a" stroke-width="0.2">80</text>
<line x1="80.40" y1="756.48" x2="84.70" y2="756.48" stroke="#000" stroke-width="1.3" stroke-linecap="butt"/>
<text transform="translate(55.52 760.93) scale(1.0000 1.0000)" font-size="13.3" font-family='"Liberation Sans", sans-serif' font-weight="normal" fill="#0a0a0a" stroke="#0a0a0a" stroke-width="0.2">100</text>
<line x1="80.40" y1="713.90" x2="84.70" y2="713.90" stroke="#000" stroke-width="1.3" stroke-linecap="butt"/>
<text transform="translate(55.52 718.35) scale(1.0000 1.0000)" font-size="13.3" font-family='"Liberation Sans", sans-serif' font-weight="normal" fill="#0a0a0a" stroke="#0a0a0a" stroke-width="0.2">120</text>
<text transform="translate(41.80 894.85) rotate(-90) scale(0.9917 1)" font-size="21.8" font-family='"Liberation Sans", sans-serif' fill="#0a0a0a" stroke="#0a0a0a" stroke-width="0.38">ADCC (%)</text>
<line x1="89.99" y1="969.40" x2="89.99" y2="971.70" stroke="#000" stroke-width="1.25" stroke-linecap="butt"/>
<line x1="95.01" y1="969.40" x2="95.01" y2="971.70" stroke="#000" stroke-width="1.25" stroke-linecap="butt"/>
<line x1="99.11" y1="969.40" x2="99.11" y2="971.70" stroke="#000" stroke-width="1.25" stroke-linecap="butt"/>
<line x1="102.58" y1="969.40" x2="102.58" y2="971.70" stroke="#000" stroke-width="1.25" stroke-linecap="butt"/>
<line x1="105.58" y1="969.40" x2="105.58" y2="971.70" stroke="#000" stroke-width="1.25" stroke-linecap="butt"/>
<line x1="108.23" y1="969.40" x2="108.23" y2="971.70" stroke="#000" stroke-width="1.25" stroke-linecap="butt"/>
<line x1="110.60" y1="969.40" x2="110.60" y2="973.20" stroke="#000" stroke-width="1.25" stroke-linecap="butt"/>
<line x1="126.19" y1="969.40" x2="126.19" y2="971.70" stroke="#000" stroke-width="1.25" stroke-linecap="butt"/>
<line x1="135.31" y1="969.40" x2="135.31" y2="971.70" stroke="#000" stroke-width="1.25" stroke-linecap="butt"/>
<line x1="141.79" y1="969.40" x2="141.79" y2="971.70" stroke="#000" stroke-width="1.25" stroke-linecap="butt"/>
<line x1="146.81" y1="969.40" x2="146.81" y2="971.70" stroke="#000" stroke-width="1.25" stroke-linecap="butt"/>
<line x1="150.91" y1="969.40" x2="150.91" y2="971.70" stroke="#000" stroke-width="1.25" stroke-linecap="butt"/>
<line x1="154.38" y1="969.40" x2="154.38" y2="971.70" stroke="#000" stroke-width="1.25" stroke-linecap="butt"/>
<line x1="157.38" y1="969.40" x2="157.38" y2="971.70" stroke="#000" stroke-width="1.25" stroke-linecap="butt"/>
<line x1="160.03" y1="969.40" x2="160.03" y2="971.70" stroke="#000" stroke-width="1.25" stroke-linecap="butt"/>
<line x1="162.40" y1="969.40" x2="162.40" y2="973.20" stroke="#000" stroke-width="1.25" stroke-linecap="butt"/>
<line x1="177.99" y1="969.40" x2="177.99" y2="971.70" stroke="#000" stroke-width="1.25" stroke-linecap="butt"/>
<line x1="187.11" y1="969.40" x2="187.11" y2="971.70" stroke="#000" stroke-width="1.25" stroke-linecap="butt"/>
<line x1="193.59" y1="969.40" x2="193.59" y2="971.70" stroke="#000" stroke-width="1.25" stroke-linecap="butt"/>
<line x1="198.61" y1="969.40" x2="198.61" y2="971.70" stroke="#000" stroke-width="1.25" stroke-linecap="butt"/>
<line x1="202.71" y1="969.40" x2="202.71" y2="971.70" stroke="#000" stroke-width="1.25" stroke-linecap="butt"/>
<line x1="206.18" y1="969.40" x2="206.18" y2="971.70" stroke="#000" stroke-width="1.25" stroke-linecap="butt"/>
<line x1="209.18" y1="969.40" x2="209.18" y2="971.70" stroke="#000" stroke-width="1.25" stroke-linecap="butt"/>
<line x1="211.83" y1="969.40" x2="211.83" y2="971.70" stroke="#000" stroke-width="1.25" stroke-linecap="butt"/>
<line x1="214.20" y1="969.40" x2="214.20" y2="973.20" stroke="#000" stroke-width="1.25" stroke-linecap="butt"/>
<line x1="229.79" y1="969.40" x2="229.79" y2="971.70" stroke="#000" stroke-width="1.25" stroke-linecap="butt"/>
<line x1="238.91" y1="969.40" x2="238.91" y2="971.70" stroke="#000" stroke-width="1.25" stroke-linecap="butt"/>
<line x1="245.39" y1="969.40" x2="245.39" y2="971.70" stroke="#000" stroke-width="1.25" stroke-linecap="butt"/>
<line x1="250.41" y1="969.40" x2="250.41" y2="971.70" stroke="#000" stroke-width="1.25" stroke-linecap="butt"/>
<line x1="254.51" y1="969.40" x2="254.51" y2="971.70" stroke="#000" stroke-width="1.25" stroke-linecap="butt"/>
<line x1="257.98" y1="969.40" x2="257.98" y2="971.70" stroke="#000" stroke-width="1.25" stroke-linecap="butt"/>
<line x1="260.98" y1="969.40" x2="260.98" y2="971.70" stroke="#000" stroke-width="1.25" stroke-linecap="butt"/>
<line x1="263.63" y1="969.40" x2="263.63" y2="971.70" stroke="#000" stroke-width="1.25" stroke-linecap="butt"/>
<line x1="266.00" y1="969.40" x2="266.00" y2="973.20" stroke="#000" stroke-width="1.25" stroke-linecap="butt"/>
<line x1="281.59" y1="969.40" x2="281.59" y2="971.70" stroke="#000" stroke-width="1.25" stroke-linecap="butt"/>
<line x1="290.71" y1="969.40" x2="290.71" y2="971.70" stroke="#000" stroke-width="1.25" stroke-linecap="butt"/>
<line x1="297.19" y1="969.40" x2="297.19" y2="971.70" stroke="#000" stroke-width="1.25" stroke-linecap="butt"/>
<line x1="302.21" y1="969.40" x2="302.21" y2="971.70" stroke="#000" stroke-width="1.25" stroke-linecap="butt"/>
<line x1="306.31" y1="969.40" x2="306.31" y2="971.70" stroke="#000" stroke-width="1.25" stroke-linecap="butt"/>
<line x1="309.78" y1="969.40" x2="309.78" y2="971.70" stroke="#000" stroke-width="1.25" stroke-linecap="butt"/>
<line x1="312.78" y1="969.40" x2="312.78" y2="971.70" stroke="#000" stroke-width="1.25" stroke-linecap="butt"/>
<line x1="315.43" y1="969.40" x2="315.43" y2="971.70" stroke="#000" stroke-width="1.25" stroke-linecap="butt"/>
<line x1="317.80" y1="969.40" x2="317.80" y2="973.20" stroke="#000" stroke-width="1.25" stroke-linecap="butt"/>
<text transform="translate(100.99 988.60) scale(0.9655 1.0000)" font-size="13.2" font-family='"Liberation Sans", sans-serif' font-weight="normal" fill="#0a0a0a" stroke="#0a0a0a" stroke-width="0.2">0.1</text>
<text transform="translate(158.98 988.60) scale(0.7795 1.0000)" font-size="13.2" font-family='"Liberation Sans", sans-serif' font-weight="normal" fill="#0a0a0a" stroke="#0a0a0a" stroke-width="0.2">1</text>
<text transform="translate(207.28 988.60) scale(1.0253 1.0000)" font-size="13.2" font-family='"Liberation Sans", sans-serif' font-weight="normal" fill="#0a0a0a" stroke="#0a0a0a" stroke-width="0.2">10</text>
<text transform="translate(254.59 988.60) scale(1.0182 1.0000)" font-size="13.2" font-family='"Liberation Sans", sans-serif' font-weight="normal" fill="#0a0a0a" stroke="#0a0a0a" stroke-width="0.2">100</text>
<text transform="translate(303.50 988.60) scale(1.0053 1.0000)" font-size="13.2" font-family='"Liberation Sans", sans-serif' font-weight="normal" fill="#0a0a0a" stroke="#0a0a0a" stroke-width="0.2">1000</text>
<text transform="translate(116.46 1014.60) scale(1.0041 1.0000)" font-size="16.6" font-family='"Liberation Sans", sans-serif' font-weight="normal" fill="#0a0a0a" stroke="#0a0a0a" stroke-width="0.38">Ab concentration (ng/mL)</text>
<polyline points="110.60,941.90 112.33,940.59 114.05,939.23 115.78,937.82 117.51,936.37 119.23,934.87 120.96,933.32 122.69,931.72 124.41,930.07 126.14,928.37 127.87,926.62 129.59,924.82 131.32,922.98 133.05,921.08 134.77,919.13 136.50,917.14 138.23,915.10 139.95,913.01 141.68,910.88 143.41,908.70 145.13,906.48 146.86,904.22 148.59,901.92 150.31,899.58 152.04,897.20 153.77,894.80 155.49,892.36 157.22,889.89 158.95,887.40 160.67,884.88 162.40,882.34 164.13,879.79 165.85,877.22 167.58,874.63 169.31,872.04 171.03,869.45 172.76,866.85 174.49,864.26 176.21,861.66 177.94,859.08 179.67,856.51 181.39,853.95 183.12,851.41 184.85,848.88 186.57,846.38 188.30,843.91 190.03,841.46 191.75,839.04 193.48,836.66 195.21,834.31 196.93,832.00 198.66,829.73 200.39,827.50 202.11,825.31 203.84,823.16 205.57,821.06 207.29,819.01 209.02,817.00 210.75,815.04 212.47,813.13 214.20,811.27 215.93,809.46 217.65,807.70 219.38,805.99 221.11,804.32 222.83,802.71 224.56,801.15 226.29,799.63 228.01,798.17 229.74,796.75 231.47,795.38 233.19,794.05 234.92,792.77 236.65,791.54 238.37,790.35 240.10,789.20 241.83,788.09 243.55,787.03 245.28,786.01 247.01,785.02 248.73,784.07 250.46,783.16 252.19,782.29 253.91,781.45 255.64,780.65 257.37,779.87 259.09,779.13 260.82,778.42 262.55,777.74 264.27,777.09 266.00,776.47 267.73,775.87 269.45,775.30 271.18,774.75 272.91,774.22 274.63,773.72 276.36,773.24 278.09,772.79 279.81,772.35 281.54,771.93 283.27,771.53 284.99,771.15 286.72,770.79 288.45,770.44 290.17,770.10 291.90,769.79 293.63,769.49 295.35,769.20 297.08,768.92 298.81,768.66 300.53,768.41 302.26,768.17 303.99,767.94 305.71,767.72 307.44,767.51 309.17,767.32 310.89,767.13 312.62,766.95 314.35,766.78 316.07,766.61 317.80,766.46" fill="none" stroke="#333" stroke-width="1"/>
<line x1="110.60" y1="939.00" x2="110.60" y2="947.30" stroke="#6e6e6e" stroke-width="1" stroke-linecap="butt"/>
<line x1="107.10" y1="939.00" x2="114.10" y2="939.00" stroke="#6e6e6e" stroke-width="1" stroke-linecap="butt"/>
<line x1="107.10" y1="947.30" x2="114.10" y2="947.30" stroke="#6e6e6e" stroke-width="1" stroke-linecap="butt"/>
<circle cx="110.60" cy="943.00" r="3.5" fill="#000" stroke="none" stroke-width="1"/>
<line x1="135.31" y1="909.00" x2="135.31" y2="925.00" stroke="#6e6e6e" stroke-width="1" stroke-linecap="butt"/>
<line x1="131.81" y1="909.00" x2="138.81" y2="909.00" stroke="#6e6e6e" stroke-width="1" stroke-linecap="butt"/>
<line x1="131.81" y1="925.00" x2="138.81" y2="925.00" stroke="#6e6e6e" stroke-width="1" stroke-linecap="butt"/>
<circle cx="135.31" cy="917.02" r="3.5" fill="#000" stroke="none" stroke-width="1"/>
<line x1="162.40" y1="869.30" x2="162.40" y2="893.10" stroke="#6e6e6e" stroke-width="1" stroke-linecap="butt"/>
<line x1="158.90" y1="869.30" x2="165.90" y2="869.30" stroke="#6e6e6e" stroke-width="1" stroke-linecap="butt"/>
<line x1="158.90" y1="893.10" x2="165.90" y2="893.10" stroke="#6e6e6e" stroke-width="1" stroke-linecap="butt"/>
<circle cx="162.40" cy="881.25" r="3.5" fill="#000" stroke="none" stroke-width="1"/>
<line x1="187.11" y1="831.60" x2="187.11" y2="864.70" stroke="#6e6e6e" stroke-width="1" stroke-linecap="butt"/>
<line x1="183.61" y1="831.60" x2="190.61" y2="831.60" stroke="#6e6e6e" stroke-width="1" stroke-linecap="butt"/>
<line x1="183.61" y1="864.70" x2="190.61" y2="864.70" stroke="#6e6e6e" stroke-width="1" stroke-linecap="butt"/>
<circle cx="187.11" cy="848.25" r="3.5" fill="#000" stroke="none" stroke-width="1"/>
<line x1="214.20" y1="796.30" x2="214.20" y2="826.70" stroke="#6e6e6e" stroke-width="1" stroke-linecap="butt"/>
<line x1="210.70" y1="796.30" x2="217.70" y2="796.30" stroke="#6e6e6e" stroke-width="1" stroke-linecap="butt"/>
<line x1="210.70" y1="826.70" x2="217.70" y2="826.70" stroke="#6e6e6e" stroke-width="1" stroke-linecap="butt"/>
<circle cx="214.20" cy="811.20" r="3.5" fill="#000" stroke="none" stroke-width="1"/>
<line x1="238.91" y1="782.60" x2="238.91" y2="795.20" stroke="#6e6e6e" stroke-width="1" stroke-linecap="butt"/>
<line x1="235.41" y1="782.60" x2="242.41" y2="782.60" stroke="#6e6e6e" stroke-width="1" stroke-linecap="butt"/>
<line x1="235.41" y1="795.20" x2="242.41" y2="795.20" stroke="#6e6e6e" stroke-width="1" stroke-linecap="butt"/>
<circle cx="238.91" cy="788.63" r="3.5" fill="#000" stroke="none" stroke-width="1"/>
<line x1="266.00" y1="770.90" x2="266.00" y2="779.20" stroke="#6e6e6e" stroke-width="1" stroke-linecap="butt"/>
<line x1="262.50" y1="770.90" x2="269.50" y2="770.90" stroke="#6e6e6e" stroke-width="1" stroke-linecap="butt"/>
<line x1="262.50" y1="779.20" x2="269.50" y2="779.20" stroke="#6e6e6e" stroke-width="1" stroke-linecap="butt"/>
<circle cx="266.00" cy="775.22" r="3.5" fill="#000" stroke="none" stroke-width="1"/>
<line x1="317.80" y1="746.60" x2="317.80" y2="790.50" stroke="#6e6e6e" stroke-width="1" stroke-linecap="butt"/>
<line x1="314.30" y1="746.60" x2="321.30" y2="746.60" stroke="#6e6e6e" stroke-width="1" stroke-linecap="butt"/>
<line x1="314.30" y1="790.50" x2="321.30" y2="790.50" stroke="#6e6e6e" stroke-width="1" stroke-linecap="butt"/>
<circle cx="317.80" cy="767.98" r="3.5" fill="#000" stroke="none" stroke-width="1"/>
<line x1="317.80" y1="948.50" x2="317.80" y2="965.50" stroke="#6e6e6e" stroke-width="1" stroke-linecap="butt"/>
<line x1="314.80" y1="948.50" x2="320.80" y2="948.50" stroke="#6e6e6e" stroke-width="1" stroke-linecap="butt"/>
<line x1="314.80" y1="965.50" x2="320.80" y2="965.50" stroke="#6e6e6e" stroke-width="1" stroke-linecap="butt"/>
<rect x="315.30" y="954.50" width="5.00" height="5.50" fill="#fff" stroke="#555" stroke-width="1"/>
<line x1="101.70" y1="727.80" x2="119.20" y2="727.80" stroke="#666" stroke-width="0.8" stroke-linecap="butt"/>
<circle cx="110.40" cy="727.80" r="3.1" fill="#000" stroke="none" stroke-width="1"/>
<line x1="101.70" y1="748.40" x2="119.20" y2="748.40" stroke="#333" stroke-width="1.1" stroke-linecap="butt"/>
<rect x="108.20" y="746.20" width="5.00" height="4.60" fill="#ddd" stroke="#555" stroke-width="0.9"/>
<text transform="translate(125.05 733.10) scale(1.0341 1.0000)" font-size="15.8" font-family='"Liberation Sans", sans-serif' font-weight="normal" fill="#0a0a0a" stroke="#0a0a0a" stroke-width="0.38">NI-1701</text>
<text transform="translate(125.97 752.80) scale(1.0253 1.0000)" font-size="15.8" font-family='"Liberation Sans", sans-serif' font-weight="normal" fill="#0a0a0a" stroke="#0a0a0a" stroke-width="0.38">hIgG1</text>
<text transform="translate(176.69 752.80) scale(1.0612 1.0000)" font-size="15.8" font-family='"Liberation Sans", sans-serif' font-weight="normal" fill="#0a0a0a" stroke="#0a0a0a" stroke-width="0.38">control</text>
</svg>
</body></html>
